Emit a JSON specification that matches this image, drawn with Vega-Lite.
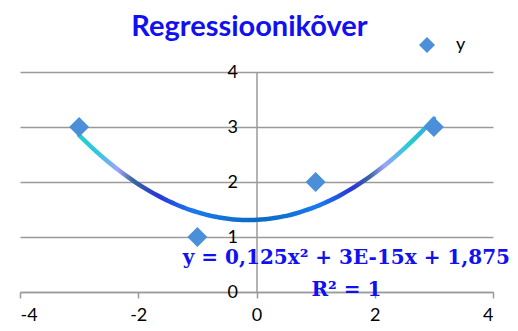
{
  "$schema": "https://vega.github.io/schema/vega-lite/v6.json",
  "width": 473,
  "height": 220,
  "autosize": {"type": "none"},
  "padding": {"left": 20, "top": 72, "right": 25, "bottom": 39},
  "background": "white",
  "title": {
    "text": "Regressioonikõver",
    "font": "Lato",
    "fontSize": 29,
    "fontWeight": "bold",
    "color": "#1010f0",
    "anchor": "middle",
    "dx": -7,
    "offset": -6
  },
  "config": {
    "view": {"stroke": null},
    "axis": {
      "labelFont": "Lato",
      "labelFontSize": 18,
      "labelColor": "#000000",
      "domainColor": "#9a9a9a",
      "domainWidth": 1.5,
      "tickColor": "#9a9a9a",
      "tickWidth": 1.5,
      "gridColor": "#9a9a9a",
      "gridWidth": 1.5,
      "title": null,
      "labelExpr": "datum.value < 0 ? '-' + abs(datum.value) : '' + datum.value"
    }
  },
  "datasets": {
    "points": [
      {"x": -3, "y": 3},
      {"x": -1, "y": 1},
      {"x": 1, "y": 2},
      {"x": 3, "y": 3}
    ],
    "trendLabel": [
      {"x": 1.52, "y": 0.62, "label": "y = 0,125x² + 3E-15x + 1,875\nR² = 1"}
    ]
  },
  "layer": [
    {
      "data": {"name": "points"},
      "transform": [
        {"regression": "y", "on": "x", "method": "poly", "order": 2, "extent": [-3, 3]}
      ],
      "mark": {
        "type": "line",
        "strokeWidth": 4.5,
        "strokeCap": "round",
        "interpolate": "monotone",
        "stroke": {
          "gradient": "linear",
          "x1": 0, "y1": 0, "x2": 1, "y2": 0,
          "stops": [
            {"offset": 0.0, "color": "#20d0d0"},
            {"offset": 0.05, "color": "#30c8dc"},
            {"offset": 0.11, "color": "#a0a0ff"},
            {"offset": 0.15, "color": "#3a6a9e"},
            {"offset": 0.22, "color": "#2a35d8"},
            {"offset": 0.32, "color": "#1a78f0"},
            {"offset": 0.5, "color": "#0a6cc0"},
            {"offset": 0.68, "color": "#1a78f0"},
            {"offset": 0.77, "color": "#2a35d8"},
            {"offset": 0.82, "color": "#3a6a9e"},
            {"offset": 0.86, "color": "#a0a0ff"},
            {"offset": 0.93, "color": "#20d0d0"},
            {"offset": 1.0, "color": "#3aa0e8"}
          ]
        }
      },
      "encoding": {
        "x": {
          "field": "x",
          "type": "quantitative",
          "scale": {"domain": [-4, 4], "nice": false, "zero": false},
          "axis": {
            "values": [-4, -2, 0, 2, 4],
            "grid": false,
            "tickSize": 6,
            "labelPadding": 8
          }
        },
        "y": {
          "field": "y",
          "type": "quantitative",
          "scale": {"domain": [0, 4], "nice": false},
          "axis": {
            "values": [0, 1, 2, 3, 4],
            "grid": true,
            "ticks": false,
            "offset": -236.5,
            "labelPadding": 19,
            "labelBaseline": "middle"
          }
        }
      }
    },
    {
      "data": {"name": "points"},
      "mark": {"type": "point", "shape": "diamond", "filled": true, "size": 400, "opacity": 1},
      "encoding": {
        "x": {"field": "x", "type": "quantitative"},
        "y": {"field": "y", "type": "quantitative"},
        "color": {
          "datum": "y",
          "type": "nominal",
          "scale": {"range": ["#4a8fd8"]},
          "legend": {
            "title": null,
            "orient": "none",
            "legendX": 398,
            "legendY": -36,
            "padding": 0,
            "symbolSize": 256,
            "labelFont": "Lato",
            "labelFontSize": 18,
            "labelColor": "#000000",
            "labelOffset": 20
          }
        }
      }
    },
    {
      "data": {"name": "trendLabel"},
      "mark": {
        "type": "text",
        "font": "DejaVu Serif",
        "fontWeight": "bold",
        "fontSize": 20,
        "color": "#1010f0",
        "align": "center",
        "baseline": "middle",
        "lineBreak": "\n",
        "lineHeight": 32
      },
      "encoding": {
        "x": {"field": "x", "type": "quantitative"},
        "y": {"field": "y", "type": "quantitative"},
        "text": {"field": "label"}
      }
    }
  ]
}
